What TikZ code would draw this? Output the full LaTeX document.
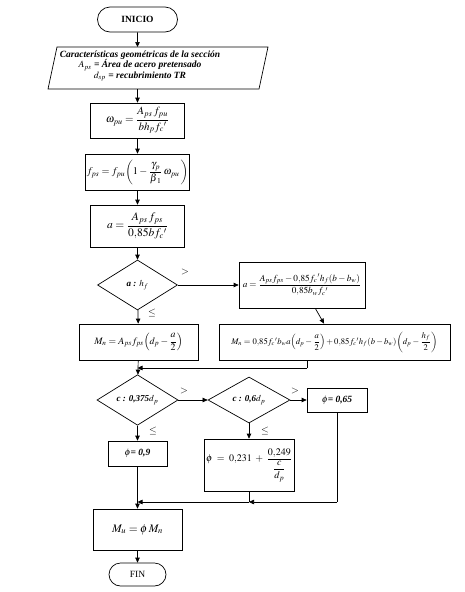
\documentclass[tikz,border=0pt]{standalone}
\usepackage{amsmath}
\usepackage{mathptmx}
\usepackage{fontspec}
\setmainfont{Liberation Serif}
\usetikzlibrary{arrows.meta,shapes.geometric,shapes.misc}
\tikzset{
  fbox/.style={draw, line width=0.7pt, inner sep=1pt, align=center},
  term/.style={draw, line width=0.7pt, rounded rectangle, inner sep=0pt},
  dec/.style={draw, line width=0.7pt, diamond, inner sep=0pt},
  arr/.style={line width=0.7pt, -{Triangle[length=5pt,width=4.5pt]}},
  ln/.style={line width=0.7pt},
  lbl/.style={font=\fontsize{10}{11}\selectfont, inner sep=0pt},
  bi/.style={font=\fontsize{9}{10}\selectfont\bfseries\itshape\boldmath},
  mth/.style={font=\fontsize{#1}{#1}\selectfont},
  mth/.default=10
}
\begin{document}
\begin{tikzpicture}[x=1pt,y=-1pt]
\useasboundingbox (0,0) rectangle (464,592);
% terminal
\node[term, minimum width=80pt, minimum height=25pt, font=\fontsize{9.5}{10}\selectfont\bfseries] (inicio) at (137.5,19.5) {INICIO};
% data parallelogram
\coordinate (pA) at (48,89);
\coordinate (pB) at (259,89);
\coordinate (pC) at (268,47);
\coordinate (pD) at (57,47);
\draw[ln] (pA) -- (pB) -- (pC) -- (pD) -- cycle;
\node[font=\fontsize{9.5}{10.5}\selectfont\bfseries\itshape\boldmath, align=center, inner sep=0pt] (datos) at (140,66) {Características geométricas de la sección\\ $A_{ps}$ = Área de acero pretensado\\ $d_{sp}$ = recubrimiento TR};
\coordinate (ptop) at (137.5,47);
\coordinate (pbot) at (137.5,89);
% process boxes
\node[fbox, mth=11, minimum width=94pt, minimum height=35pt] (w) at (137.5,120.5) {$\omega_{pu} = \dfrac{A_{ps}\,f_{pu}}{b h_p f_c{}'}$};
\node[fbox, mth=10.3, minimum width=94pt, minimum height=36pt] (fps) at (137.5,172) {$f_{ps} = f_{pu}\!\left(1 - \dfrac{\gamma_p}{\beta{}_1}\,\omega_{pu}\,\right)$};
\node[fbox, mth=11.5, minimum width=94pt, minimum height=42pt] (ab) at (137.5,226) {$a = \dfrac{A_{ps}\,f_{ps}}{0{,}85 b f_c{}'}$};
\node[dec, bi, minimum width=80pt, minimum height=50pt] (d1) at (137.5,285) {a : $h_f$};
\node[fbox, mth=9.2, minimum width=126pt, minimum height=46pt] (a2) at (302,285) {$a = \dfrac{A_{ps} f_{ps} - 0{,}85 f_c{}' h_f (b - b_w)}{0{,}85 b_w f_c{}'}$};
\node[fbox, mth=9.8, minimum width=119pt, minimum height=36pt] (mn1) at (138.5,342) {$M_n = A_{ps} f_{ps}\!\left(d_p - \dfrac{a}{2}\right)$};
\node[fbox, mth=8.6, minimum width=231pt, minimum height=36pt] (mn2) at (334.5,342) {$M_n = 0{,}85 f_c{}' b_w a\!\left(d_p - \dfrac{a}{2}\right) + 0{,}85 f_c{}' h_f (b - b_w)\!\left(d_p - \dfrac{h_f}{2}\right)$};
\node[dec, bi, minimum width=81pt, minimum height=47pt] (d2) at (137.5,400) {c : 0,375$d_p$};
\node[dec, bi, minimum width=82pt, minimum height=46pt] (d3) at (249,400) {c : 0,6$d_p$};
\node[fbox, font=\fontsize{9.5}{10}\selectfont\bfseries\itshape\boldmath, minimum width=60pt, minimum height=24pt] (p65) at (337,400) {$\phi$= 0,65};
\node[fbox, font=\fontsize{9.5}{10}\selectfont\bfseries\itshape\boldmath, minimum width=59pt, minimum height=25pt] (p9) at (137.5,453.5) {$\phi$= 0,9};
\node[fbox, mth=10, minimum width=90pt, minimum height=52pt] (p231) at (249,465) {$\phi\; = \;0{,}231\; + \;\dfrac{0{,}249}{\dfrac{c}{d_p}}$};
\node[fbox, font=\fontsize{11.5}{12}\selectfont\bfseries\itshape\boldmath, minimum width=89pt, minimum height=41pt] (mu) at (137.5,529.5) {$M_u = \phi\, M_n$};
\node[term, minimum width=57pt, minimum height=23pt, font=\fontsize{9.5}{10}\selectfont] (fin) at (137.5,574.5) {FIN};
% junction coordinates
\coordinate (j1) at (137.5,368);
\coordinate (j2) at (307,368);
\coordinate (j3) at (249,502);
\coordinate (j4) at (137.5,502);
\coordinate (j5) at (337,502);
\coordinate (mn2b) at (307,360);
% connectors
\draw[arr] (inicio) -- (ptop);
\draw[arr] (pbot) -- (w);
\draw[arr] (w) -- (fps);
\draw[arr] (fps) -- (ab);
\draw[arr] (ab) -- (d1);
\draw[arr] (d1) -- (a2);
\draw[arr] (d1) -- (mn1);
\draw[arr] (a2) -- (mn2);
\draw[ln] (mn2b) -- (j2);
\draw[arr] (j2) -- (j1);
\draw[arr] (mn1) -- (d2);
\draw[arr] (d2) -- (d3);
\draw[arr] (d3) -- (p65);
\draw[arr] (d2) -- (p9);
\draw[arr] (d3) -- (p231);
\draw[ln] (p65) -- (j5);
\draw[arr] (j5) -- (j3);
\draw[arr] (j3) -- (j4);
\draw[ln] (p231) -- (j3);
\draw[arr] (p9) -- (mu);
\draw[arr] (mu) -- (fin);
% labels
\node[lbl] (g1) at (185,272) {$>$};
\node[lbl] (l1) at (152,313) {$\leq$};
\node[lbl] (g2) at (184,391) {$>$};
\node[lbl] (g3) at (295,391) {$>$};
\node[lbl] (l2) at (153,431) {$\leq$};
\node[lbl] (l3) at (265,431) {$\leq$};
\end{tikzpicture}
\end{document}
